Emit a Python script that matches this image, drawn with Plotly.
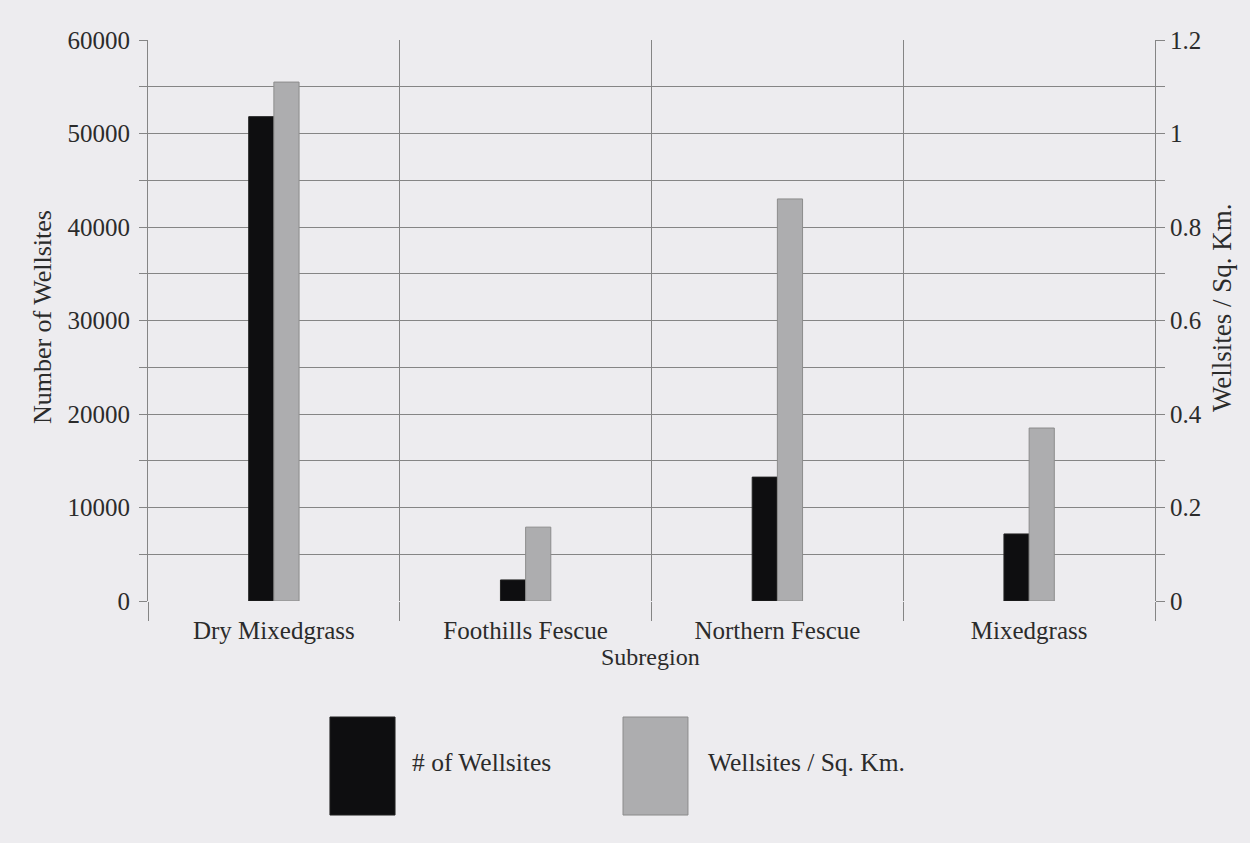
import plotly.graph_objects as go

# Wellsite data by grassland subregion
subregions = ["Dry Mixedgrass", "Foothills Fescue", "Northern Fescue", "Mixedgrass"]
wellsite_counts = [51800, 2250, 13250, 7170]
wellsites_per_sqkm = [1.11, 0.158, 0.86, 0.37]
series_names = ["# of Wellsites", "Wellsites / Sq. Km."]

BG = "#edecef"
GRID = "#858585"
TEXT = "#2b2b2b"
BLACK_BAR = "#0e0e10"
GRAY_BAR = "#adadaf"
FONT = "Liberation Serif"

fig = go.Figure()
fig.add_trace(go.Bar(
    x=subregions, y=wellsite_counts, name=series_names[0],
    marker=dict(color=BLACK_BAR, line=dict(color="#222222", width=1)),
    offsetgroup="count", yaxis="y", showlegend=False,
))
fig.add_trace(go.Bar(
    x=subregions, y=wellsites_per_sqkm, name=series_names[1],
    marker=dict(color=GRAY_BAR, line=dict(color="#8c8c8c", width=1)),
    offsetgroup="density", yaxis="y2", showlegend=False,
))

tick_font = dict(family=FONT, size=25, color=TEXT)

fig.update_layout(
    width=1250, height=843,
    margin=dict(l=148, r=95, t=40, b=242),
    paper_bgcolor=BG, plot_bgcolor=BG,
    barmode="group", bargap=0.8, bargroupgap=0,
    font=dict(family=FONT, color=TEXT),
    xaxis=dict(
        type="category", tickson="boundaries",
        showgrid=True, gridcolor=GRID, gridwidth=1,
        ticks="outside", ticklen=19, tickcolor=GRID, tickwidth=1,
        ticklabelstandoff=12,
        showline=False, zeroline=False, tickfont=tick_font,
    ),
    yaxis=dict(
        range=[0, 60000], dtick=10000, tickformat="d",
        showgrid=True, gridcolor=GRID, gridwidth=1,
        ticks="outside", ticklen=8, tickcolor=GRID,
        minor=dict(dtick=5000, showgrid=True, gridcolor=GRID, gridwidth=1,
                   ticks="outside", ticklen=8, tickcolor=GRID),
        showline=True, linecolor=GRID, linewidth=1,
        ticklabelstandoff=4,
        zeroline=False, tickfont=tick_font,
    ),
    yaxis2=dict(
        range=[0, 1.2], dtick=0.2, overlaying="y", side="right",
        showgrid=False, zeroline=False,
        ticks="outside", ticklen=9, tickcolor=GRID,
        minor=dict(dtick=0.1, ticks="outside", ticklen=9, tickcolor=GRID),
        showline=True, linecolor=GRID, linewidth=1,
        tickfont=tick_font,
    ),
)

# Axis titles
fig.add_annotation(text="Subregion", xref="paper", yref="paper",
                   x=0.4995, y=-0.0998, xanchor="center", yanchor="middle",
                   showarrow=False,
                   font=dict(family=FONT, size=24, color=TEXT))
fig.add_annotation(text="Number of Wellsites", xref="paper", yref="paper",
                   x=-0.1053, y=0.506, xanchor="center", yanchor="middle",
                   textangle=-90, showarrow=False,
                   font=dict(family=FONT, size=26, color=TEXT))
fig.add_annotation(text="Wellsites / Sq. Km.", xref="paper", yref="paper",
                   x=1.0665, y=0.524, xanchor="center", yanchor="middle",
                   textangle=-90, showarrow=False,
                   font=dict(family=FONT, size=27, color=TEXT))

# Legend below the chart: large swatches with labels
legend_items = [
    (series_names[0], BLACK_BAR, "#222222", 0.1807, 0.2453, 0.2602),
    (series_names[1], GRAY_BAR, "#8c8c8c", 0.4717, 0.5362, 0.5541),
]
for label, fill, edge, x0, x1, tx in legend_items:
    fig.add_shape(type="rect", xref="paper", yref="paper",
                  x0=x0, x1=x1, y0=-0.3815, y1=-0.2068,
                  fillcolor=fill, line=dict(color=edge, width=1))
    fig.add_annotation(text=label, xref="paper", yref="paper",
                       x=tx, y=-0.287, xanchor="left", yanchor="middle",
                       showarrow=False,
                       font=dict(family=FONT, size=25.5, color=TEXT))

fig.write_html("out.html")
